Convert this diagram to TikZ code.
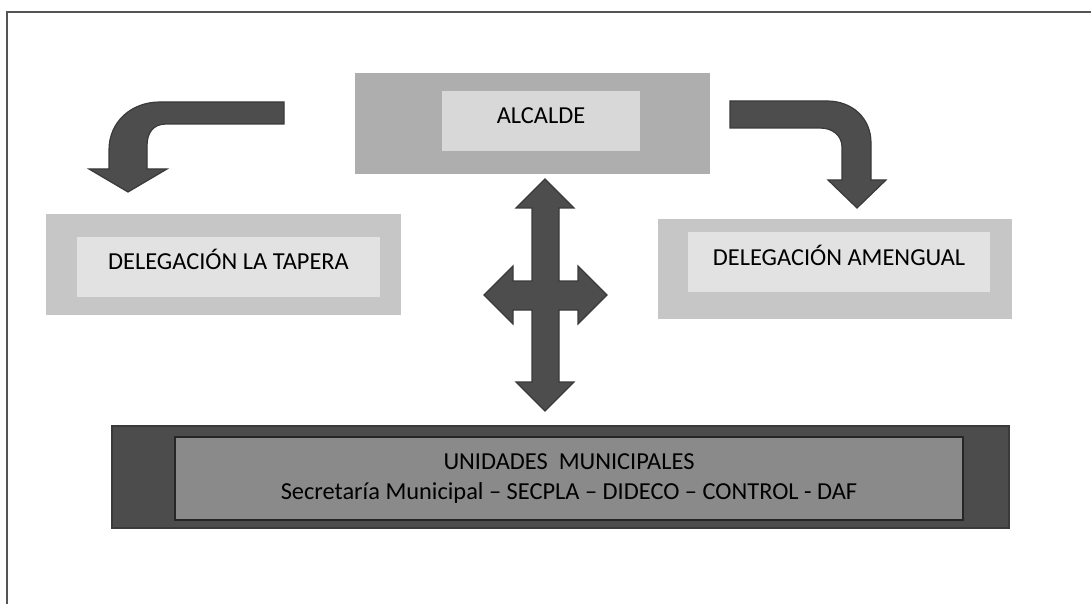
\documentclass[tikz,border=0pt]{standalone}
\usepackage{fontspec}
\setmainfont{Carlito}
\usepackage{tikz}

\definecolor{frameline}{HTML}{555555}
\definecolor{alcout}{HTML}{AEAEAE}
\definecolor{alcin}{HTML}{D8D8D8}
\definecolor{delout}{HTML}{C6C6C6}
\definecolor{delin}{HTML}{E2E2E2}
\definecolor{uniout}{HTML}{4C4C4C}
\definecolor{uniin}{HTML}{8A8A8A}
\definecolor{arrowfill}{HTML}{4D4D4D}
\definecolor{arrowline}{HTML}{3A3A3A}

\begin{document}
\begin{tikzpicture}[x=0.5pt,y=-0.5pt]
\tikzset{every node/.style={inner sep=0pt, outer sep=0pt, font=\fontsize{12.2}{14.6}\selectfont}}
\tikzset{box style/.style={draw=none, minimum width=#1}}
\tikzset{up style/.style={text height=8pt, text depth=5pt}}
\tikzset{arrow style/.style={fill=arrowfill, draw=arrowline, line width=0.6pt, line join=miter}}

\useasboundingbox (0,0) rectangle (1091,604);
\draw[frameline, line width=1pt] (7,604) -- (7,12) -- (1091,12);

% boxes
\node[box style=177.5pt, minimum height=50.5pt, fill=alcout] (A) at (532.5,123.5) {};
\node[box style=99pt, minimum height=30pt, fill=alcin, up style] (AIn) at (541,121) {ALCALDE};
\node[box style=177.5pt, minimum height=50.5pt, fill=delout] (T) at (223.5,264.5) {};
\node[box style=151.5pt, minimum height=30pt, fill=delin, up style] (TIn) at (228.5,267) {DELEGACIÓN LA TAPERA};
\node[box style=177pt, minimum height=50pt, fill=delout] (M) at (835,269) {};
\node[box style=151pt, minimum height=30pt, fill=delin, up style] (MIn) at (839,262) {DELEGACIÓN AMENGUAL};
\node[box style=448.5pt, minimum height=51pt, fill=uniout, draw=arrowline, line width=0.6pt] (U) at (560.5,477) {};
\node[box style=394pt, minimum height=41.5pt, fill=uniin, draw=black!85, line width=0.6pt, align=center] (UIn) at (569,478.5)
  {UNIDADES\ \ MUNICIPALES\\Secretaría Municipal -- SECPLA -- DIDECO -- CONTROL - DAF};

% bent arrows
\draw[arrow style] (284,102) -- (160,102) .. controls (131,102) and (109,122) .. (109,150)
  -- (109,169) -- (89,169) -- (128,192) -- (167,169) -- (147,169) -- (147,146)
  .. controls (147,133) and (153,124) .. (166,124) -- (284,124) -- cycle;
\draw[arrow style] (730,101) -- (827,101) .. controls (852,101) and (871,118) .. (871,143)
  -- (871,180) -- (886,180) -- (857,208) -- (828,180) -- (842,180) -- (842,147)
  .. controls (842,136) and (833,128) .. (820,128) -- (730,128) -- cycle;

% four way arrow
\draw[arrow style] (545,179) -- (574,208) -- (559,208) -- (559,281) -- (578,281) -- (578,266)
  -- (607,295) -- (578,324) -- (578,310) -- (559,310) -- (559,382) -- (574,382) -- (545,411)
  -- (516,382) -- (532,382) -- (532,310) -- (513,310) -- (513,324) -- (484,295) -- (513,266)
  -- (513,281) -- (532,281) -- (532,208) -- (516,208) -- cycle;
\end{tikzpicture}
\end{document}
